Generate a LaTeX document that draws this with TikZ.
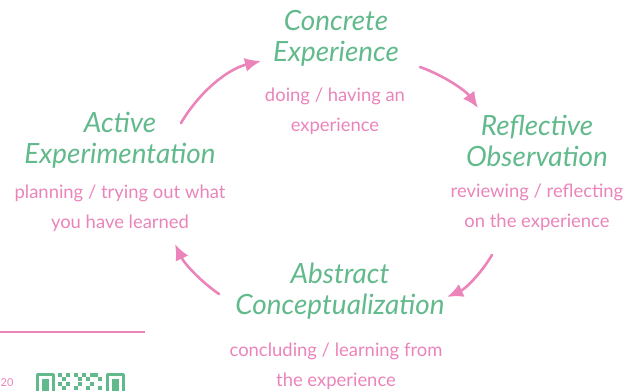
\documentclass[tikz,border=0pt]{standalone}
\usepackage{fontspec}
\setmainfont{Lato}
\usetikzlibrary{arrows.meta}
\definecolor{kgreen}{RGB}{98,186,140}
\definecolor{kpink}{RGB}{234,132,186}
\tikzset{
  stage/.style={text=kgreen,font=\fontsize{28}{31}\selectfont\itshape,align=center,inner sep=0pt},
  gloss/.style={text=kpink,font=\fontsize{18.5}{30}\selectfont,align=center,inner sep=0pt},
  cyc/.style={draw=kpink,line width=2.6bp,line cap=round,-{Latex[length=16bp,width=14bp]}},
  qrcell/.style={fill=kgreen,draw=none},
}
\begin{document}
\begin{tikzpicture}[>=latex,line join=bevel,]
    \useasboundingbox (0bp,0bp) rectangle (628bp,391bp);
    %%
    \node (ce) at (336.0bp,353.0bp) [stage] {Concrete\\Experience};
    \node (ce-t) at (335.0bp,280.0bp) [gloss] {doing / having an\\experience};
    \node (ro) at (537.0bp,250.0bp) [stage] {Reflective\\Observation};
    \node (ro-t) at (537.0bp,184.0bp) [gloss] {reviewing / reflecting\\on the experience};
    \node (ac) at (340.0bp,100.0bp) [stage] {Abstract\\Conceptualization};
    \node (ac-t) at (336.0bp,25.0bp) [gloss] {concluding / learning from\\the experience};
    \node (ae) at (120.0bp,251.0bp) [stage] {Active\\Experimentation};
    \node (ae-t) at (120.0bp,183.0bp) [gloss] {planning / trying out what\\you have learned};
    %
    \coordinate (ae-out) at (181.0bp,268.0bp);
    \coordinate (ce-in) at (261.0bp,330.0bp);
    \coordinate (ce-out) at (420.0bp,324.0bp);
    \coordinate (ro-in) at (478.0bp,283.0bp);
    \coordinate (ro-out) at (492.0bp,136.0bp);
    \coordinate (ac-in) at (447.0bp,94.0bp);
    \coordinate (ac-out) at (219.0bp,97.0bp);
    \coordinate (ae-in) at (175.0bp,147.0bp);
    \draw [cyc] (ae-out) ..controls (200.0bp,300.0bp) and (228.0bp,322.0bp)  .. (ce-in);
    \draw [cyc] (ce-out) ..controls (445.0bp,315.0bp) and (466.0bp,300.0bp)  .. (ro-in);
    \draw [cyc] (ro-out) ..controls (480.0bp,116.0bp) and (465.0bp,102.0bp)  .. (ac-in);
    \draw [cyc] (ac-out) ..controls (200.0bp,110.0bp) and (184.0bp,128.0bp)  .. (ae-in);
    %
    \coordinate (rule-l) at (0.0bp,59.0bp);
    \coordinate (rule-r) at (145.0bp,59.0bp);
    \draw [draw=kpink,line width=1.5bp] (rule-l) -- (rule-r);
    \node (year) at (0.5bp,8.0bp) [anchor=west,text=kpink,font=\fontsize{11}{11}\selectfont,inner sep=0pt] {20};
    %
    \draw [draw=kgreen,line width=3bp] (37.0bp,16.5bp) rectangle (53.0bp,-4.0bp);
    \fill [kgreen] (41.5bp,12.0bp) rectangle (48.5bp,0.0bp);
    \draw [draw=kgreen,line width=3bp] (107.0bp,16.5bp) rectangle (123.0bp,-4.0bp);
    \fill [kgreen] (111.5bp,12.0bp) rectangle (118.5bp,0.0bp);
    \foreach \qx/\qy in {58/14,62/10,66/14,58/5,66/5,62/1,74/14,78/10,82/14,86/10,90/14,94/14,78/5,86/1,90/5,98/10,98/1,74/1}
      \fill [qrcell] (\qx bp,\qy bp) rectangle ++(4.2bp,4.2bp);
    %
\end{tikzpicture}
\end{document}
